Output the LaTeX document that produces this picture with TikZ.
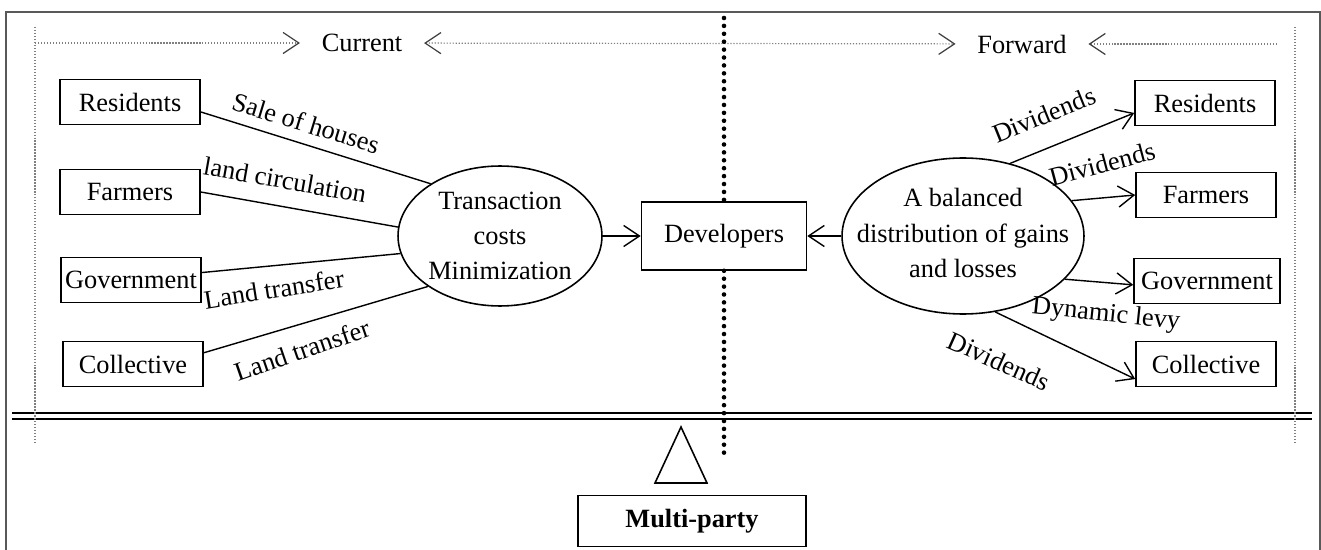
\documentclass[tikz,border=0pt]{standalone}
\usepackage{fontspec}
\setmainfont{Liberation Serif}
\usetikzlibrary{arrows.meta,shapes.geometric}

\begin{document}
\begin{tikzpicture}[x=0.02cm,y=-0.02cm,>={Straight Barb[length=9pt,width=12pt]},
                    font=\fontsize{15}{20}\selectfont,line width=0.8pt]
  \tikzstyle{box}=[draw,line width=0.9pt,minimum width=2.8cm,minimum height=0.9cm,inner sep=0pt]
  \tikzstyle{oval}=[draw,ellipse,line width=0.9pt,inner sep=0pt]
  \tikzstyle{lbl}=[inner sep=0pt]
  \tikzstyle{fine}=[densely dotted,gray,line width=0.7pt,
                    >={Straight Barb[length=9pt,width=12pt,color=black!75]}]
  \tikzstyle{split}=[line width=2.6pt,dash pattern=on 0pt off 4.5pt,line cap=round]

  \useasboundingbox (0,0) rectangle (1321,550);
  \draw[gray!70!black] (6,550) -- (6,12) -- (1320,12) -- (1320,550);

  % beam
  \draw[line width=1.2pt,double distance=2.6pt] (12,416) -- (1312,416);
  \draw[fine] (35,27) -- (35,445);
  \draw[fine] (1295,27) -- (1295,445);

  % current / forward
  \coordinate (ltop) at (35,43);
  \coordinate (rtop) at (1277,44);
  \node[inner xsep=12pt] (cur) at (362,43) {Current};
  \node[inner xsep=12pt] (fwd) at (1022,44) {Forward};
  \draw[fine,->] (ltop) -- (cur);
  \draw[fine,<->] (cur) -- (fwd);
  \draw[fine,->] (rtop) -- (fwd);

  % current side
  \node[box] (resL) at (130,102) {Residents};
  \node[box] (farL) at (130,192) {Farmers};
  \node[box] (govL) at (131,280) {Government};
  \node[box] (colL) at (133,364) {Collective};
  \node[oval,minimum width=4.08cm,minimum height=2.8cm] (tc) at (500,236) {};
  \node[align=center] (tcText) at (tc) {Transaction\\costs\\Minimization};

  \node[box,minimum width=3.3cm,minimum height=1.36cm] (dev) at (724,236) {Developers};

  % forward side
  \node[oval,minimum width=4.84cm,minimum height=3.12cm] (bal) at (963,236) {};
  \node[align=center] (balText) at (963,233) {A balanced\\distribution of gains\\and losses};
  \node[box] (resR) at (1205,103) {Residents};
  \node[box] (farR) at (1206,195) {Farmers};
  \node[box,minimum width=2.92cm] (govR) at (1207,281) {Government};
  \node[box] (colR) at (1206,364) {Collective};

  \draw (resL.-8) -- (tc.143);
  \draw (farL.east) -- (tc.175);
  \draw (govL.6) -- (tc.190);
  \draw (colL.9) -- (tc.215);
  \draw[->] (tc.east) -- (dev.west);
  \draw[->] (bal.west) -- (dev.east);
  \draw[->] (bal.57) -- (resR.188);
  \draw[->] (bal.18) -- (farR.west);
  \draw[->] (bal.-23) -- (govR.183);
  \draw[->] (bal.-67) -- (colR.192);

  \node[lbl,rotate=-17] (l1) at (306,123) {Sale of houses};
  \node[lbl,rotate=-10] (l2) at (285,180) {land circulation};
  \node[lbl,rotate=9] (l3) at (274,289) {Land transfer};
  \node[lbl,rotate=19] (l4) at (302,350) {Land transfer};
  \node[lbl,rotate=22] (r1) at (1044,115) {Dividends};
  \node[lbl,rotate=15] (r2) at (1102,164) {Dividends};
  \node[lbl,rotate=-6] (r3) at (1106,315) {Dynamic levy};
  \node[lbl,rotate=-24] (r4) at (999,361) {Dividends};

  % split line
  \coordinate (ctop) at (724,18);
  \coordinate (cbot) at (724,453);
  \draw[split] (ctop) -- (dev.north);
  \draw[split] (dev.south) -- (cbot);

  % fulcrum
  \draw[line width=0.9pt] (681,427) -- (707,483) -- (655,483) -- cycle;
  \node[box,minimum width=4.56cm,minimum height=1.02cm,font=\fontsize{15}{20}\selectfont\bfseries] (mp) at (692,521) {Multi-party};
\end{tikzpicture}
\end{document}
